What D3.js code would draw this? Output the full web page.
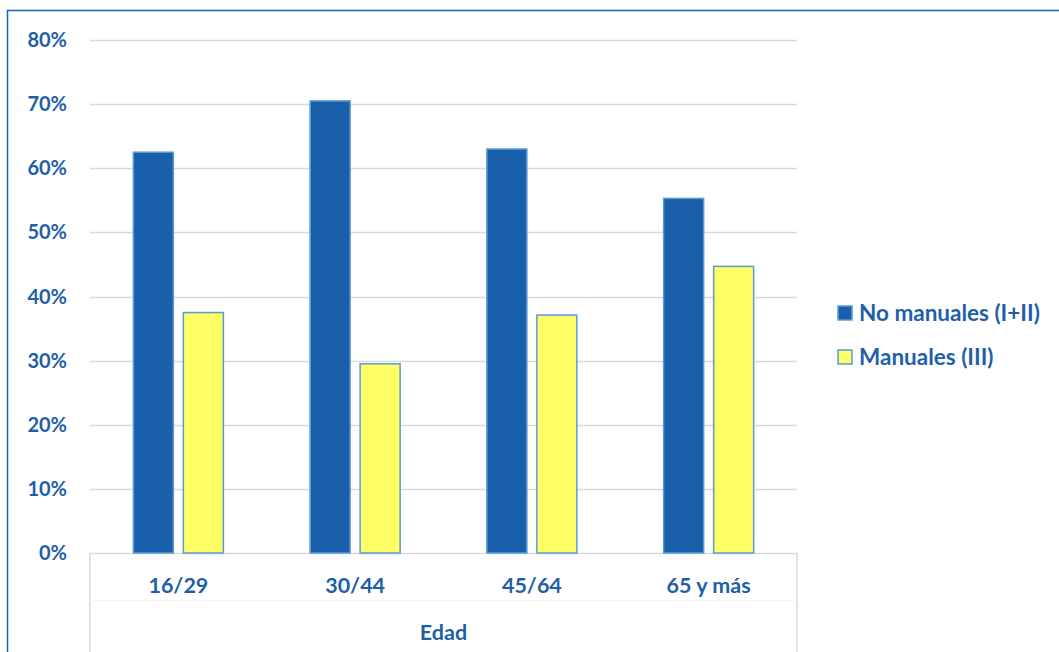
<!DOCTYPE html>
<html><head><meta charset="utf-8">
<script src="https://cdn.jsdelivr.net/npm/d3@7"></script>
<style>body{margin:0;background:#fff;} svg{display:block;}</style>
</head><body>
<script>
const categories = ["16/29", "30/44", "45/64", "65 y más"];
const seriesNames = ["No manuales (I+II)", "Manuales (III)"];
const noManuales = [62.5, 70.5, 63.0, 55.3];
const manuales = [37.5, 29.5, 37.1, 44.7];
const yTicks = [0, 10, 20, 30, 40, 50, 60, 70, 80];
const axisTitle = "Edad";

const W = 1059, H = 652;
const textColor = "#1f5fa8";
const font = "Lato, 'Open Sans', sans-serif";
const colors = ["#1a5fa9", "#ffff66"];
const svg = d3.select("body").append("svg").attr("width", W).attr("height", H);

// outer frame
svg.append("path").attr("d", `M7.5,${H} V10.5 H${W}`).attr("fill","none").attr("stroke","#1565c0").attr("stroke-width",1.5);

const plot = {left: 90, right: 797, top: 40, bottom: 553};
const y = d3.scaleLinear().domain([0, 80]).range([plot.bottom, plot.top]);
const x = d3.scaleBand().domain(categories).range([plot.left, plot.right]);

// gridlines
svg.append("g").selectAll("line").data(yTicks).join("line")
  .attr("x1", plot.left).attr("x2", plot.right)
  .attr("y1", d => Math.round(y(d)) + 0.5).attr("y2", d => Math.round(y(d)) + 0.5)
  .attr("stroke", "#d9d9d9").attr("stroke-width", 1.5);

// y labels
svg.append("g").selectAll("text").data(yTicks).join("text")
  .attr("x", 67).attr("y", d => y(d)).attr("dy", "0.35em")
  .attr("text-anchor", "end").attr("font-family", font).attr("font-weight", "bold")
  .attr("font-size", 20).attr("fill", textColor).text(d => d + "%");

// bars
const series = [noManuales, manuales];
const barW = 40, gap = 10;
series.forEach((vals, si) => {
  svg.append("g").selectAll("rect").data(categories).join("rect")
    .attr("x", (c) => x(c) + x.bandwidth()/2 + (si === 0 ? -gap/2 - barW : gap/2))
    .attr("y", (c, i) => y(vals[i]))
    .attr("width", barW)
    .attr("height", (c, i) => plot.bottom - y(vals[i]))
    .attr("fill", colors[si]).attr("stroke", "#5b9bd5").attr("stroke-width", 1.5);
});

// category axis box lines
const axG = svg.append("g").attr("stroke", "#d9d9d9").attr("stroke-width", 1.5).attr("fill","none");
axG.append("line").attr("x1", plot.left).attr("x2", plot.left).attr("y1", plot.bottom).attr("y2", H);
axG.append("line").attr("x1", plot.right).attr("x2", plot.right).attr("y1", plot.bottom).attr("y2", H);
axG.append("line").attr("x1", plot.left).attr("x2", plot.right).attr("y1", 600.5).attr("y2", 600.5).attr("stroke","#f4f4f4").attr("stroke-width",1);

svg.append("g").selectAll("text").data(categories).join("text")
  .attr("x", c => x(c) + x.bandwidth()/2).attr("y", 585).attr("dy","0.35em")
  .attr("text-anchor","middle").attr("font-family", font).attr("font-weight","bold")
  .attr("font-size", 21.5).attr("fill", textColor).text(c => c);

svg.append("text").attr("x", (plot.left + plot.right)/2).attr("y", 632).attr("dy","0.35em")
  .attr("text-anchor","middle").attr("font-family", font).attr("font-weight","bold")
  .attr("font-size", 21.5).attr("fill", textColor).text(axisTitle);

// legend
const leg = svg.append("g").selectAll("g").data(seriesNames).join("g")
  .attr("transform", (d, i) => `translate(838, ${313 + i * 44})`);
leg.append("rect").attr("x", 0).attr("y", -7).attr("width", 14).attr("height", 14)
  .attr("fill", (d, i) => colors[i]).attr("stroke", "#5b9bd5").attr("stroke-width", 1.5);
leg.append("text").attr("x", 21).attr("y", 0).attr("dy", "0.35em")
  .attr("font-family", font).attr("font-weight","bold").attr("font-size", 22.5)
  .attr("fill", textColor).text(d => d);
</script>
</body></html>
